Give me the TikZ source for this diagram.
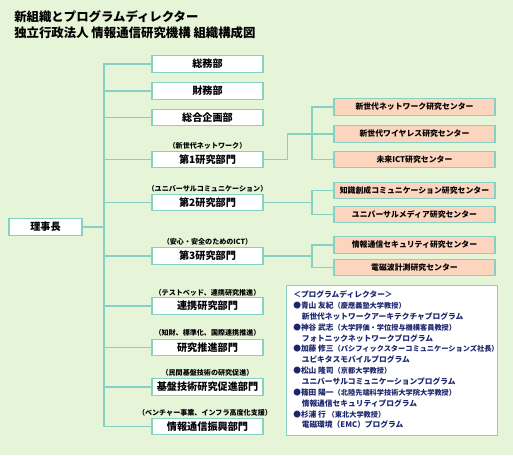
\documentclass[tikz,border=0pt]{standalone}
\usepackage{fontspec}
\setmainfont{Noto Sans CJK JP}
\usepackage{tikz}
\usetikzlibrary{positioning,calc}
\usepackage{xcolor}

\definecolor{bgGreen}{RGB}{230,244,215}
\definecolor{lineTeal}{RGB}{134,208,196}
\definecolor{boxSalmon}{RGB}{253,213,190}
\definecolor{pdNavy}{RGB}{28,38,110}

\newcommand{\aff}[1]{{\fontsize{5.4}{8.15}\selectfont #1}}

\begin{document}
\begin{tikzpicture}[x=0.75pt, y=-0.75pt,
    dept/.style={rectangle, draw=lineTeal, line width=0.9pt, fill=white, minimum width=83.25pt, minimum height=12.4pt, inner sep=0pt, text centered, font=\fontsize{7.6}{8}\selectfont\bfseries},
    rescenter/.style={rectangle, draw=lineTeal, line width=0.9pt, fill=boxSalmon, minimum width=120.75pt, minimum height=12.4pt, inner sep=0pt, text centered, font=\fontsize{5.9}{7}\selectfont\bfseries},
    note/.style={inner sep=0pt, font=\fontsize{5.3}{6}\selectfont\bfseries},
    link/.style={draw=lineTeal, line width=1pt},
    pdbox/.style={rectangle, draw=lineTeal, line width=0.9pt, fill=white, minimum width=158.25pt, minimum height=112.5pt, inner sep=0pt}
]

% Background
\fill[bgGreen] (0,0) rectangle (513,455);
\useasboundingbox (0,0) rectangle (513,455);

% Title
\node[anchor=west, inner sep=0pt, font=\fontsize{9.3}{10}\selectfont\bfseries] (title1) at (14,17) {新組織とプログラムディレクター};
\node[anchor=west, inner sep=0pt, font=\fontsize{9.3}{10}\selectfont\bfseries] (title2) at (14,33) {独立行政法人 情報通信研究機構 組織構成図};

% President
\node[dept, minimum width=54.75pt] (rijicho) at (45.5,227) {理事長};

% Departments - left column
\node[dept] (somu) at (207.5,64) {総務部};
\node[dept] (zaimu) at (207.5,91) {財務部};
\node[dept] (kikaku) at (207.5,117.5) {総合企画部};
\node[dept] (bu1) at (207.5,159.5) {第1研究部門};
\node[dept] (bu2) at (207.5,202.5) {第2研究部門};
\node[dept] (bu3) at (207.5,256) {第3研究部門};
\node[dept] (renkei) at (207.5,306) {連携研究部門};
\node[dept] (suishin) at (207.5,347.5) {研究推進部門};
\node[dept] (kiban) at (207.5,387) {基盤技術研究促進部門};
\node[dept] (shinko) at (207.5,426.5) {情報通信振興部門};

% Notes above departments
\node[note] (note1) at (207.5,146) {（新世代ネットワーク）};
\node[note] (note2) at (207.5,188.5) {（ユニバーサルコミュニケーション）};
\node[note] (note3) at (207.5,242) {（安心・安全のためのICT）};
\node[note] (note4) at (207.5,293) {（テストベッド、連携研究推進）};
\node[note] (note5) at (207.5,333) {（知財、標準化、国際連携推進）};
\node[note] (note6) at (207.5,372.5) {（民間基盤技術の研究促進）};
\node[note] (note7) at (205,413) {（ベンチャー事業、インフラ高度化支援）};

% Research centers - right column
\node[rescenter] (nwc) at (414.5,107) {新世代ネットワーク研究センター};
\node[rescenter] (wlc) at (414.5,134) {新世代ワイヤレス研究センター};
\node[rescenter] (ictc) at (414.5,159.5) {未来ICT研究センター};
\node[rescenter] (chishiki) at (414.5,190.5) {知識創成コミュニケーション研究センター};
\node[rescenter] (media) at (414.5,214.5) {ユニバーサルメディア研究センター};
\node[rescenter] (security) at (414.5,245) {情報通信セキュリティ研究センター};
\node[rescenter] (denji) at (414.5,267.5) {電磁波計測研究センター};

% Trunk
\coordinate (trunk) at (104,64);
\coordinate (br) at (312,107);
\draw[link] (somu.west) -- (trunk) |- (shinko.west);
\foreach \n in {zaimu,kikaku,bu1,bu2,bu3,renkei,suishin,kiban}
    \draw[link] (\n.west) -- (\n.west -| trunk);
\draw[link] (rijicho.east) -- (rijicho.east -| trunk);

% Brackets to research centers
\draw[link] (nwc.west) -- (nwc.west -| br) |- (ictc.west);
\draw[link] (wlc.west) -- (wlc.west -| br);
\draw[link] (bu1.east) -- ++(24,0) |- (wlc.west -| br);

\draw[link] (chishiki.west) -- (chishiki.west -| br) |- (media.west);
\draw[link] (bu2.east) -- (bu2.east -| br);

\draw[link] (security.west) -- (security.west -| br) |- (denji.west);
\draw[link] (bu3.east) -- (bu3.east -| br);

% Program directors
\node[pdbox, anchor=north west] (pdframe) at (286,285) {};
\node[anchor=north west, inner sep=0pt, align=left, text=pdNavy, font=\fontsize{5.8}{8.15}\selectfont\bfseries] (pdlist) at (293,290.5) {%
＜プログラムディレクター＞\\
●青山 友紀\aff{（慶應義塾大学教授）}\\
\hspace*{1.1em}新世代ネットワークアーキテクチャプログラム\\
●神谷 武志\aff{（大学評価・学位授与機構客員教授）}\\
\hspace*{1.1em}フォトニックネットワークプログラム\\
●加藤 修三\aff{（パシフィックスターコミュニケーションズ社長）}\\
\hspace*{1.1em}ユビキタスモバイルプログラム\\
●松山 隆司\aff{（京都大学教授）}\\
\hspace*{1.1em}ユニバーサルコミュニケーションプログラム\\
●篠田 陽一\aff{（北陸先端科学技術大学院大学教授）}\\
\hspace*{1.1em}情報通信セキュリティプログラム\\
●杉浦 行 \aff{（東北大学教授）}\\
\hspace*{1.1em}電磁環境（EMC）プログラム};

\end{tikzpicture}
\end{document}
